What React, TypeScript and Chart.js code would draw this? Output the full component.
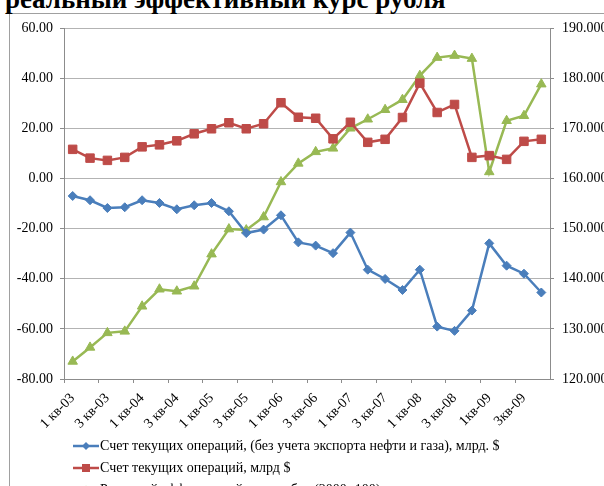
import React, { useEffect, useRef } from "react";
import { Chart, registerables } from "chart.js";

Chart.register(...registerables);

const categories: string[] = [
  "1 кв-03", "2 кв-03", "3 кв-03", "4 кв-03",
  "1 кв-04", "2 кв-04", "3 кв-04", "4 кв-04",
  "1 кв-05", "2 кв-05", "3 кв-05", "4 кв-05",
  "1 кв-06", "2 кв-06", "3 кв-06", "4 кв-06",
  "1 кв-07", "2 кв-07", "3 кв-07", "4 кв-07",
  "1 кв-08", "2 кв-08", "3 кв-08", "4 кв-08",
  "1кв-09", "2кв-09", "3кв-09", "4кв-09",
];

const nonOilAccount: number[] = [
  -7.0, -8.7, -11.8, -11.5, -8.7, -9.8, -12.3, -10.7,
  -9.8, -13.1, -21.8, -20.4, -14.7, -25.5, -26.8, -29.8,
  -21.6, -36.4, -40.1, -44.5, -36.4, -59.1, -60.8, -52.7,
  -25.9, -34.8, -38.0, -45.5,
];

const currentAccount: number[] = [
  11.6, 8.1, 7.2, 8.4, 12.6, 13.4, 15.0, 17.8,
  19.8, 22.2, 19.8, 21.8, 30.2, 24.4, 24.0, 15.8,
  22.4, 14.4, 15.6, 24.3, 38.0, 26.3, 29.5, 8.4,
  9.1, 7.6, 14.8, 15.6,
];

const realRate: number[] = [
  123.5, 126.3, 129.2, 129.5, 134.5, 137.9, 137.5, 138.5,
  144.9, 149.9, 149.7, 152.3, 159.3, 163.0, 165.3, 166.0,
  170.0, 171.8, 173.7, 175.7, 180.5, 184.1, 184.5, 183.9,
  161.3, 171.5, 172.5, 178.8,
];

const seriesNames: string[] = [
  "Счет текущих операций, (без учета экспорта нефти и газа), млрд. $",
  "Счет текущих операций, млрд $",
  "Реальный эффективный курс рубля (2000=100), правая ось",
];

const titleText = "реальный эффективный курс рубля";

const BLUE = "#4A7EBB";
const RED = "#BE4B48";
const GREEN = "#98B954";
const FONT = '"Liberation Serif", "Times New Roman", serif';
const GRID = "#b3b3b3";
const AXIS = "#8c8c8c";

function LegendMarker({ kind, color }: { kind: string; color: string }) {
  let shape: React.ReactNode = null;
  if (kind === "diamond") shape = <polygon points="13,2 17,6 13,10 9,6" fill={color} />;
  if (kind === "square") shape = <rect x="9" y="2" width="8" height="8" fill={color} />;
  if (kind === "triangle") shape = <polygon points="13,1.5 17.5,9.5 8.5,9.5" fill={color} />;
  return (
    <svg width="26" height="12" style={{ display: "block" }}>
      <line x1="0" y1="6" x2="26" y2="6" stroke={color} strokeWidth="2.5" />
      {shape}
    </svg>
  );
}

export default function App() {
  const ref = useRef<HTMLCanvasElement | null>(null);

  useEffect(() => {
    if (!ref.current) return;
    Chart.defaults.font.family = FONT;
    Chart.defaults.font.size = 14;
    Chart.defaults.color = "#000";
    const chart = new Chart(ref.current, {
      type: "line",
      data: {
        labels: categories,
        datasets: [
          {
            label: seriesNames[0],
            data: nonOilAccount,
            yAxisID: "y",
            borderColor: BLUE,
            backgroundColor: BLUE,
            borderWidth: 2.5,
            pointStyle: "rectRot",
            pointRadius: 4.5,
            pointBorderWidth: 1,
            tension: 0,
          },
          {
            label: seriesNames[1],
            data: currentAccount,
            yAxisID: "y",
            borderColor: RED,
            backgroundColor: RED,
            borderWidth: 2.5,
            pointStyle: "rect",
            pointRadius: 6,
            pointBorderWidth: 1,
            tension: 0,
          },
          {
            label: seriesNames[2],
            data: realRate,
            yAxisID: "y1",
            borderColor: GREEN,
            backgroundColor: GREEN,
            borderWidth: 2.5,
            pointStyle: "triangle",
            pointRadius: 5.5,
            pointBorderWidth: 1,
            tension: 0,
          },
        ],
      },
      options: {
        responsive: false,
        animation: false,
        layout: { padding: { top: 28, left: 0, right: 0, bottom: 0 } },
        plugins: {
          legend: { display: false },
          tooltip: { enabled: false },
          title: { display: false },
        },
        scales: {
          x: {
            type: "category",
            offset: true,
            grid: {
              offset: true,
              drawOnChartArea: false,
              drawTicks: true,
              tickLength: 4,
              tickColor: (ctx: any) => (ctx.index !== undefined && ctx.index % 2 === 0 ? AXIS : "rgba(0,0,0,0)"),
            },
            border: { color: AXIS, width: 1 },
            ticks: {
              autoSkip: false,
              maxRotation: 45,
              minRotation: 45,
              padding: 7,
              font: { family: FONT, size: 14 },
              callback: (_v: any, i: number) => (i % 2 === 0 ? categories[i] : ""),
            },
            afterFit: (s: any) => {
              s.height = 107;
            },
          },
          y: {
            type: "linear",
            position: "left",
            min: -80,
            max: 60,
            grid: { color: GRID, tickLength: 4, tickColor: AXIS },
            border: { color: AXIS, width: 1 },
            ticks: {
              stepSize: 20,
              padding: 7,
              font: { family: FONT, size: 14 },
              callback: (v: any) => Number(v).toFixed(2),
            },
            afterFit: (s: any) => {
              s.width = 64;
            },
          },
          y1: {
            type: "linear",
            position: "right",
            min: 120,
            max: 190,
            grid: { drawOnChartArea: false, tickLength: 4, tickColor: AXIS },
            border: { color: AXIS, width: 1 },
            ticks: {
              stepSize: 10,
              padding: 8,
              font: { family: FONT, size: 14 },
              callback: (v: any) => Number(v).toFixed(3),
            },
            afterFit: (s: any) => {
              s.width = 54;
            },
          },
        },
      },
    });
    return () => chart.destroy();
  }, []);

  const legendRows = [
    { kind: "diamond", color: BLUE, text: seriesNames[0], y: 446 },
    { kind: "square", color: RED, text: seriesNames[1], y: 468 },
    { kind: "triangle", color: GREEN, text: seriesNames[2], y: 490 },
  ];

  return (
    <div
      style={{
        position: "fixed",
        left: 0,
        top: 0,
        width: 604,
        height: 486,
        overflow: "hidden",
        background: "#fff",
      }}
    >
      <div
        style={{
          position: "absolute",
          left: 9,
          top: 13,
          width: 700,
          height: 600,
          borderLeft: "1px solid #a0a0a0",
          borderTop: "1px solid #a0a0a0",
        }}
      />
      <div
        style={{
          position: "absolute",
          left: 5,
          top: -14,
          font: `bold 27px ${FONT}`,
          lineHeight: "27px",
          whiteSpace: "nowrap",
          color: "#000",
        }}
      >
        {titleText}
      </div>
      <canvas ref={ref} width={604} height={486} style={{ position: "absolute", left: 0, top: 0 }} />
      {legendRows.map((r, i) => (
        <div
          key={i}
          style={{
            position: "absolute",
            left: 73,
            top: r.y - 9,
            height: 18,
            display: "flex",
            alignItems: "center",
            whiteSpace: "nowrap",
            font: `14px ${FONT}`,
            color: "#000",
          }}
        >
          <LegendMarker kind={r.kind} color={r.color} />
          <span style={{ marginLeft: 1 }}>{r.text}</span>
        </div>
      ))}
    </div>
  );
}
